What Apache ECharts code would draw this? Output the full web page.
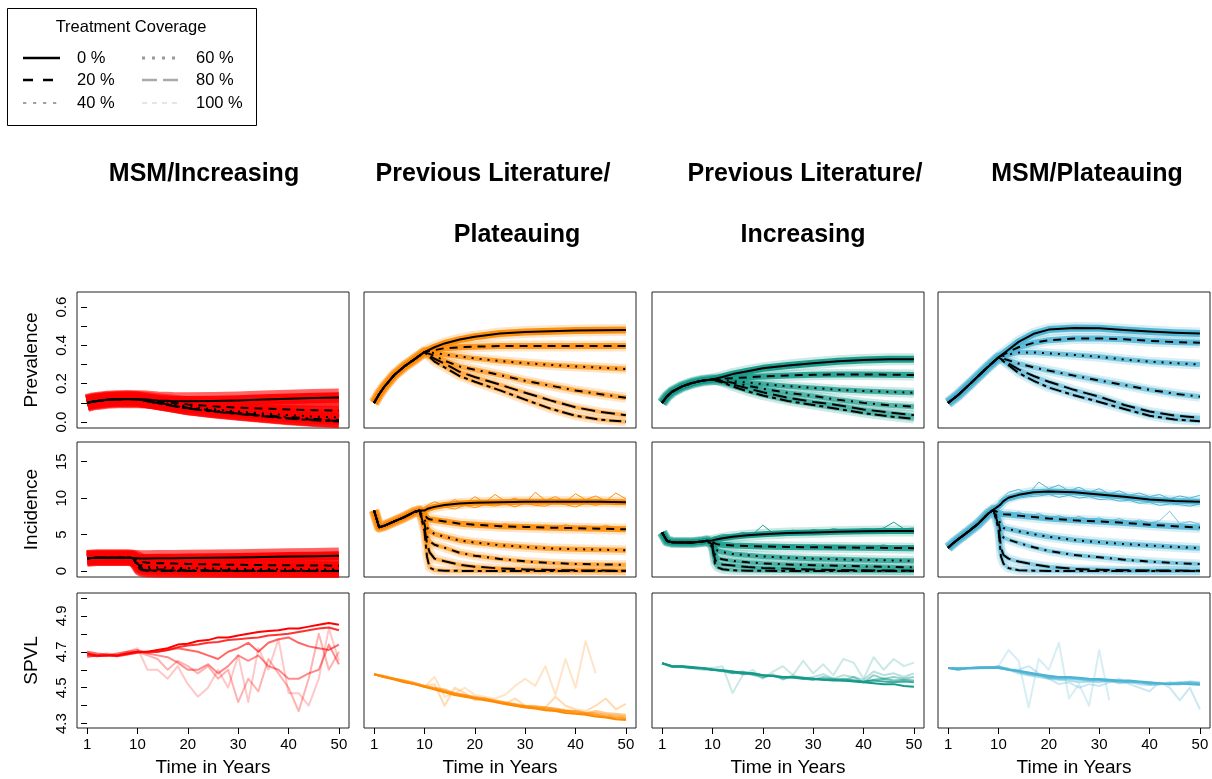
<!DOCTYPE html>
<html><head><meta charset="utf-8">
<script src="https://cdn.jsdelivr.net/npm/echarts@6/dist/echarts.min.js"></script>
<style>html,body{margin:0;padding:0;background:#fff}#c{width:1212px;height:779px}</style>
</head><body><div id="c"></div>
<script>
// ---------------- DATA ----------------
const TITLE_LINE1 = ['MSM/Increasing','Previous Literature/','Previous Literature/','MSM/Plateauing'];
const TITLE_LINE2 = ['','Plateauing','Increasing',''];
const ROW_NAMES = ['Prevalence','Incidence','SPVL'];
const COVERAGE = ['0 %','20 %','40 %','60 %','80 %','100 %'];
const X_TICKS = [0,10,20,30,40,50];
const X_TICK_LABELS = ['1','10','20','30','40','50'];
const PREV_TICKS = [0,0.1,0.2,0.3,0.4,0.5,0.6];
const PREV_LABELS = [0,0.2,0.4,0.6];
const INC_TICKS = [0,5,10,15];
const INC_LABELS = [0,5,10,15];
const SPVL_TICKS = [4.3,4.4,4.5,4.6,4.7,4.8,4.9,5.0];
const SPVL_LABELS = [4.3,4.5,4.7,4.9];

const T_PREV_PRE = [0,1,2,4,6,8,10];
const T_PREV_POST = [12,14,17,20,25,30,35,40,45,50];
const T_INC_PRE = [0,1,2,4,6,8,9];
const T_INC_POST = [10,10.5,11,12,14,17,20,25,30,35,40,45,50];
const T_REP = [10,12,14,16,18,20,22,24,26,28,30,32,34,36,38,40,42,44,46,48,50];
const T_SPVL = [0,2,4,6,8,10,12,14,16,18,20,22,24,26,28,30,32,34,36,38,40,42,44,46,48,50];

// Prevalence (mean over replicates), coverage 0..100 %
const PREV_PRE_1 = [0.100,0.106,0.110,0.116,0.119,0.120,0.119];
const PREV_POST_1 = [
  [0.117,0.113,0.110,0.109,0.110,0.113,0.117,0.121,0.125,0.128],
  [0.114,0.108,0.100,0.092,0.082,0.075,0.070,0.066,0.062,0.060],
  [0.112,0.104,0.093,0.082,0.067,0.055,0.045,0.036,0.029,0.024],
  [0.110,0.101,0.088,0.075,0.060,0.048,0.037,0.026,0.017,0.011],
  [0.109,0.099,0.086,0.072,0.057,0.044,0.033,0.021,0.012,0.006],
  [0.108,0.098,0.084,0.070,0.055,0.042,0.030,0.018,0.009,0.003]
];
const PREV_PRE_2 = [0.100,0.145,0.183,0.245,0.290,0.327,0.365];
const PREV_POST_2 = [
  [0.390,0.410,0.430,0.445,0.462,0.470,0.474,0.477,0.478,0.480],
  [0.375,0.385,0.390,0.393,0.396,0.397,0.397,0.397,0.397,0.397],
  [0.360,0.352,0.342,0.332,0.318,0.307,0.298,0.290,0.283,0.276],
  [0.345,0.320,0.290,0.273,0.245,0.215,0.190,0.165,0.145,0.127],
  [0.330,0.305,0.262,0.235,0.195,0.153,0.113,0.077,0.052,0.036],
  [0.315,0.285,0.240,0.210,0.165,0.117,0.070,0.033,0.012,0.002]
];
const PREV_PRE_3 = [0.100,0.135,0.158,0.186,0.204,0.216,0.222];
const PREV_POST_3 = [
  [0.235,0.250,0.265,0.280,0.295,0.307,0.317,0.323,0.327,0.328],
  [0.226,0.229,0.233,0.238,0.243,0.246,0.248,0.248,0.247,0.245],
  [0.218,0.214,0.206,0.198,0.187,0.178,0.168,0.162,0.157,0.153],
  [0.214,0.205,0.190,0.173,0.152,0.136,0.116,0.100,0.088,0.080],
  [0.210,0.196,0.176,0.155,0.127,0.105,0.088,0.066,0.050,0.036],
  [0.206,0.186,0.160,0.138,0.110,0.089,0.068,0.047,0.030,0.016]
];
const PREV_PRE_4 = [0.100,0.120,0.141,0.190,0.240,0.290,0.337];
const PREV_POST_4 = [
  [0.377,0.418,0.460,0.482,0.490,0.489,0.480,0.472,0.466,0.462],
  [0.366,0.390,0.413,0.427,0.435,0.436,0.432,0.423,0.417,0.413],
  [0.352,0.362,0.363,0.358,0.350,0.340,0.326,0.315,0.307,0.300],
  [0.322,0.305,0.285,0.268,0.242,0.217,0.193,0.168,0.148,0.132],
  [0.305,0.275,0.240,0.210,0.168,0.132,0.089,0.055,0.034,0.023],
  [0.296,0.256,0.215,0.180,0.140,0.105,0.068,0.033,0.013,0.004]
];

// Incidence (mean over replicates)
const INC_PRE_1 = [1.75,1.80,1.82,1.83,1.83,1.82,1.80];
const INC_POST_1 = [
  [1.75,1.72,1.72,1.73,1.75,1.76,1.78,1.82,1.87,1.93,1.98,2.04,2.10],
  [1.55,1.35,1.25,1.15,1.08,1.02,0.97,0.90,0.85,0.81,0.78,0.75,0.73],
  [1.30,0.90,0.72,0.58,0.50,0.45,0.40,0.34,0.30,0.27,0.24,0.22,0.20],
  [1.10,0.60,0.40,0.28,0.22,0.18,0.15,0.11,0.08,0.06,0.05,0.04,0.03],
  [0.95,0.40,0.22,0.12,0.08,0.06,0.05,0.03,0.02,0.01,0.01,0.00,0.00],
  [0.80,0.25,0.10,0.04,0.02,0.01,0.00,0.00,0.00,0.00,0.00,0.00,0.00]
];
const INC_PRE_2 = [8.3,6.0,6.2,6.8,7.4,8.1,8.3];
const INC_POST_2 = [
  [8.3,8.5,8.6,8.8,9.05,9.25,9.35,9.45,9.5,9.5,9.5,9.5,9.45],
  [7.8,7.3,7.1,7.0,6.8,6.5,6.35,6.15,6.05,5.95,5.88,5.8,5.73],
  [7.2,6.0,5.5,5.1,4.7,4.2,3.9,3.55,3.3,3.1,3.0,2.92,2.86],
  [6.5,4.8,4.1,3.6,3.2,2.5,2.1,1.65,1.32,1.1,0.98,0.9,0.86],
  [6.0,3.8,2.6,1.7,1.35,0.85,0.6,0.35,0.22,0.14,0.09,0.06,0.05],
  [5.5,2.0,0.5,0.15,0.05,0.02,0.01,0,0,0,0,0,0]
];
const INC_PRE_3 = [5.3,4.1,3.95,3.9,3.9,4.05,4.15];
const INC_POST_3 = [
  [4.2,4.3,4.37,4.5,4.7,4.9,5.05,5.2,5.3,5.38,5.45,5.48,5.5],
  [4.0,3.8,3.68,3.6,3.5,3.42,3.36,3.3,3.26,3.23,3.2,3.17,3.14],
  [3.8,3.1,2.8,2.6,2.35,2.15,2.0,1.82,1.7,1.6,1.52,1.46,1.41],
  [3.6,2.3,1.8,1.6,1.4,1.2,1.05,0.9,0.8,0.72,0.64,0.57,0.5],
  [3.4,1.6,1.1,0.9,0.75,0.55,0.42,0.3,0.2,0.15,0.1,0.07,0.05],
  [3.2,1.0,0.5,0.25,0.1,0.05,0.03,0.01,0,0,0,0,0]
];
const INC_PRE_4 = [3.2,3.8,4.35,5.4,6.5,7.9,8.4];
const INC_POST_4 = [
  [8.9,9.2,9.6,10.05,10.45,10.8,10.9,10.8,10.5,10.2,9.8,9.6,9.5],
  [8.0,7.85,7.8,7.75,7.6,7.4,7.2,6.95,6.8,6.6,6.35,6.15,5.96],
  [7.2,6.2,5.9,5.75,5.45,5.05,4.7,4.25,3.95,3.7,3.5,3.3,3.14],
  [6.8,5.0,4.6,4.3,3.85,3.25,2.75,2.2,1.9,1.55,1.3,1.1,0.95],
  [6.3,3.2,2.2,1.7,1.3,0.9,0.6,0.3,0.18,0.12,0.08,0.06,0.05],
  [5.8,2.0,1.0,0.4,0.12,0.05,0.02,0,0,0,0,0,0]
];

// Individual noisy incidence replicates: [0 % run A, 0 % run B, 20 % run]
const INC_REP_1 = [
  [1.9,2.0,1.9,2.1,1.95,2.05,2.0,2.1,2.0,2.15,2.1,2.2,2.15,2.25,2.2,2.3,2.35,2.25,2.4,2.35,2.45],
  [1.6,1.6,1.55,1.65,1.6,1.7,1.6,1.7,1.75,1.7,1.8,1.75,1.85,1.8,1.9,1.85,1.9,1.95,1.9,2.0,2.0],
  [1.3,1.25,1.1,1.15,1.0,1.05,0.95,1.0,0.9,0.95,0.85,0.9,0.85,0.8,0.85,0.78,0.82,0.75,0.8,0.74,0.78]
];
const INC_REP_2 = [
  [8.8,9.5,9.0,9.8,9.2,10.2,9.4,10.5,9.6,10.0,9.3,10.8,9.7,10.2,9.5,10.6,9.8,10.3,9.6,10.7,9.9],
  [8.4,8.6,8.8,8.5,9.0,8.7,9.1,8.9,9.2,8.8,9.3,9.0,8.9,9.4,9.1,8.8,9.3,9.0,9.4,9.1,9.3],
  [7.2,7.0,6.9,6.6,6.8,6.3,6.6,6.2,6.5,6.0,6.4,6.1,6.3,5.9,6.4,6.0,6.2,5.8,6.3,5.9,6.1]
];
const INC_REP_3 = [
  [4.6,5.0,4.9,5.3,5.0,6.3,5.2,5.4,5.6,5.3,5.7,5.5,5.8,5.6,5.5,5.8,5.7,5.9,6.7,5.8,5.9],
  [4.2,4.4,4.6,4.7,4.8,4.9,5.0,4.9,5.1,5.2,5.0,5.3,5.2,5.4,5.3,5.2,5.4,5.3,5.5,5.4,5.3],
  [3.8,3.6,3.7,3.4,3.6,3.3,3.6,3.4,3.5,3.3,3.6,3.3,3.5,3.4,3.2,3.5,3.3,3.6,3.2,3.4,3.5]
];
const INC_REP_4 = [
  [9.5,10.8,11.2,10.6,12.2,11.3,11.8,11.0,11.5,10.8,11.3,10.6,11.0,10.4,10.7,10.2,10.5,9.9,10.3,10.0,10.4],
  [8.8,9.6,10.0,10.2,10.3,10.5,10.1,10.4,10.0,10.2,9.8,9.9,9.6,9.7,9.3,9.4,9.0,9.2,9.1,8.9,9.2],
  [8.0,7.7,8.1,7.5,7.9,7.3,7.6,7.1,7.5,7.0,7.3,6.8,7.2,6.7,7.0,6.6,6.9,8.2,6.5,6.8,6.4]
];

// SPVL, one line per coverage (0 % .. 100 %)
const SPVL_1 = [
  [4.69,4.68,4.68,4.68,4.69,4.70,4.70,4.71,4.72,4.74,4.745,4.76,4.765,4.78,4.78,4.79,4.80,4.81,4.815,4.82,4.83,4.83,4.84,4.85,4.86,4.85],
  [4.68,4.675,4.68,4.675,4.685,4.695,4.70,4.70,4.71,4.725,4.735,4.74,4.75,4.755,4.765,4.77,4.775,4.78,4.79,4.795,4.80,4.81,4.82,4.83,4.835,4.82],
  [4.70,4.69,4.685,4.68,4.69,4.70,4.695,4.70,4.71,4.72,4.71,4.70,4.68,4.66,4.70,4.72,4.75,4.70,4.75,4.77,4.78,4.75,4.73,4.72,4.71,4.74],
  [4.67,4.68,4.68,4.69,4.70,4.71,4.69,4.68,4.67,4.64,4.60,4.60,4.63,4.58,4.62,4.68,4.65,4.68,4.62,4.60,4.55,4.55,4.58,4.60,4.74,4.63],
  [4.68,4.68,4.69,4.68,4.70,4.70,4.68,4.66,4.60,4.65,4.62,4.58,4.62,4.55,4.60,4.42,4.55,4.48,4.66,4.58,4.50,4.37,4.55,4.80,4.60,4.70],
  [4.69,4.68,4.68,4.69,4.70,4.72,4.60,4.60,4.55,4.62,4.52,4.45,4.50,4.60,4.50,4.68,4.42,4.72,4.60,4.77,4.47,4.47,4.40,4.55,4.83,4.65]
];
const SPVL_2 = [
  [4.575,4.56,4.545,4.53,4.52,4.505,4.49,4.475,4.46,4.45,4.44,4.43,4.42,4.41,4.40,4.39,4.385,4.375,4.37,4.36,4.355,4.35,4.34,4.335,4.325,4.32],
  [4.575,4.56,4.55,4.535,4.52,4.505,4.495,4.48,4.465,4.455,4.445,4.435,4.425,4.415,4.405,4.395,4.39,4.38,4.375,4.37,4.36,4.355,4.35,4.34,4.335,4.33],
  [4.575,4.565,4.55,4.54,4.525,4.51,4.50,4.49,4.47,4.46,4.45,4.44,4.43,4.42,4.41,4.40,4.395,4.39,4.385,4.375,4.37,4.36,4.36,4.35,4.345,4.34],
  [4.575,4.56,4.55,4.535,4.525,4.51,4.495,4.48,4.47,4.46,4.44,4.44,4.425,4.41,4.40,4.395,4.385,4.39,4.38,4.37,4.37,4.36,4.37,4.36,4.355,4.35],
  [4.575,4.565,4.55,4.54,4.53,4.51,4.52,4.40,4.50,4.47,4.43,4.44,4.42,4.41,4.44,4.40,4.40,4.39,4.45,4.40,4.38,4.37,4.40,4.44,4.38,4.41],
  [4.575,4.56,4.55,4.535,4.52,4.505,4.56,4.45,4.47,4.50,4.46,4.45,4.44,4.46,4.51,4.55,4.51,4.62,4.46,4.66,4.50,4.76,4.58,null,null,null]
];
const SPVL_3 = [
  [4.636,4.62,4.62,4.615,4.61,4.60,4.595,4.59,4.585,4.58,4.57,4.565,4.56,4.56,4.555,4.55,4.545,4.54,4.54,4.535,4.53,4.525,4.52,4.52,4.51,4.505],
  [4.636,4.615,4.62,4.61,4.61,4.60,4.595,4.585,4.58,4.575,4.57,4.565,4.56,4.555,4.55,4.55,4.545,4.545,4.54,4.54,4.535,4.54,4.535,4.53,4.535,4.53],
  [4.636,4.62,4.615,4.61,4.605,4.60,4.60,4.59,4.575,4.58,4.57,4.565,4.555,4.56,4.55,4.545,4.55,4.545,4.55,4.54,4.53,4.545,4.55,4.54,4.545,4.54],
  [4.636,4.62,4.615,4.61,4.61,4.605,4.595,4.58,4.59,4.575,4.56,4.57,4.55,4.56,4.555,4.545,4.56,4.55,4.54,4.56,4.53,4.57,4.55,4.56,4.55,4.56],
  [4.636,4.62,4.62,4.61,4.60,4.60,4.59,4.58,4.585,4.57,4.555,4.575,4.545,4.57,4.55,4.56,4.575,4.55,4.57,4.56,4.545,4.59,4.57,4.58,4.56,4.58],
  [4.636,4.62,4.615,4.61,4.605,4.61,4.62,4.47,4.57,4.60,4.55,4.59,4.62,4.57,4.65,4.58,4.63,4.57,4.66,4.64,4.55,4.67,4.60,4.66,4.62,4.64]
];
const SPVL_4 = [
  [4.61,4.60,4.61,4.61,4.61,4.61,4.60,4.595,4.585,4.575,4.567,4.56,4.56,4.555,4.55,4.549,4.545,4.54,4.54,4.535,4.53,4.525,4.52,4.525,4.52,4.517],
  [4.61,4.605,4.61,4.615,4.615,4.615,4.605,4.59,4.58,4.57,4.56,4.555,4.555,4.55,4.545,4.545,4.54,4.535,4.535,4.53,4.525,4.525,4.52,4.52,4.525,4.52],
  [4.61,4.61,4.605,4.61,4.61,4.62,4.60,4.59,4.575,4.57,4.555,4.55,4.55,4.545,4.54,4.54,4.535,4.535,4.53,4.53,4.52,4.52,4.525,4.53,4.53,4.525],
  [4.61,4.605,4.61,4.61,4.615,4.61,4.60,4.58,4.57,4.56,4.55,4.545,4.54,4.53,4.535,4.53,4.54,4.525,4.53,4.52,4.515,4.52,4.53,4.52,4.535,4.53],
  [4.61,4.61,4.61,4.605,4.61,4.61,4.60,4.60,4.62,4.58,4.55,4.52,4.53,4.50,4.52,4.51,4.53,4.55,4.52,4.50,4.48,4.53,4.50,4.43,4.50,4.38],
  [4.61,4.61,4.605,4.61,4.61,4.62,4.71,4.65,4.39,4.66,4.60,4.75,4.44,4.52,4.40,4.71,4.43,null,null,null,null,null,null,null,null,null]
];

// ---------------- ASSEMBLY ----------------
const PREV_PRE = [PREV_PRE_1,PREV_PRE_2,PREV_PRE_3,PREV_PRE_4];
const PREV_POST = [PREV_POST_1,PREV_POST_2,PREV_POST_3,PREV_POST_4];
const INC_PRE = [INC_PRE_1,INC_PRE_2,INC_PRE_3,INC_PRE_4];
const INC_POST = [INC_POST_1,INC_POST_2,INC_POST_3,INC_POST_4];
const INC_REP = [INC_REP_1,INC_REP_2,INC_REP_3,INC_REP_4];
const SPVL = [SPVL_1,SPVL_2,SPVL_3,SPVL_4];

const FONT = "'Liberation Sans', Arial, Helvetica, sans-serif";
const COLORS = ['#FF0000','#FF8A00','#14998A','#4BB3D3'];
const GRID_LEFT = [77,364,652,938], GRID_W = 272;
const GRID_TOP = [292,442,593], GRID_H = [136,135,135];
const Y_MIN = [-0.031,-0.82,4.276], Y_MAX = [0.678,17.7,5.027];
const Y_TICKS = [PREV_TICKS,INC_TICKS,SPVL_TICKS];
const Y_LABELS = [PREV_LABELS,INC_LABELS,SPVL_LABELS];
const DASHES = ['solid',[8,6],[2,6],[2,6,8,6],[14,6],[4,4,12,4]];
const BAND_W = [[7,6,5,5,4,4],[6,6,5,4,4,4]];
const BAND_OP = [0.95,0.85,0.75,0.65,0.55,0.5];
const BAND_SCALE = [1.5,1,1,1];
const HALO_OP = [0.6,0.22,0.22,0.22];
const SPVL_OP = [1,0.8,0.6,0.45,0.3,0.22];

function pairs(ts, vs){ return ts.map((t,i)=>[t, vs[i]===undefined?null:vs[i]]); }
function line(g, data, color, width, opacity, type){
  return {type:'line', xAxisIndex:g, yAxisIndex:g, data:data, showSymbol:false, symbol:'none',
    silent:true, animation:false, connectNulls:false,
    lineStyle:{color:color, width:width, opacity:opacity, type:type||'solid', cap:'butt', join:'round'}};
}

const grids=[], xAxes=[], yAxes=[], series=[];
for (let r=0;r<3;r++){
  for (let c=0;c<4;c++){
    const g = r*4+c;
    grids.push({left:GRID_LEFT[c], top:GRID_TOP[r], width:GRID_W, height:GRID_H[r],
      show:true, borderColor:'#222', borderWidth:1, backgroundColor:'transparent', containLabel:false});
    const bottom = r===2;
    xAxes.push({gridIndex:g, type:'value', min:-2, max:52,
      axisLine:{show:false}, splitLine:{show:false},
      axisTick:{show:bottom, length:6, lineStyle:{color:'#000'}, customValues:X_TICKS},
      axisLabel:{show:bottom, customValues:X_TICKS, margin:9, fontSize:15, color:'#000', fontFamily:FONT,
        formatter:(v)=>{const i=X_TICKS.indexOf(Math.round(v)); return i>=0?X_TICK_LABELS[i]:'';}},
      name: bottom?'Time in Years':'', nameLocation:'middle', nameGap:30,
      nameTextStyle:{fontSize:19, color:'#000', fontFamily:FONT}});
    const first = c===0;
    yAxes.push({gridIndex:g, type:'value', min:Y_MIN[r], max:Y_MAX[r],
      axisLine:{show:false}, splitLine:{show:false},
      axisTick:{show:first, length:6, lineStyle:{color:'#000'}, customValues:Y_TICKS[r]},
      axisLabel:{show:first, customValues:Y_LABELS[r], rotate:90, margin:8, fontSize:15, color:'#000', fontFamily:FONT,
        formatter:(v)=> r===1 ? String(Math.round(v)) : v.toFixed(1)},
      name: first?ROW_NAMES[r]:'', nameLocation:'middle', nameGap:36, nameRotate:90,
      nameTextStyle:{fontSize:19, color:'#000', fontFamily:FONT}});
  }
}

for (let c=0;c<4;c++){
  const col = COLORS[c];
  // Prevalence
  const gP = c;
  const tP = T_PREV_PRE.concat(T_PREV_POST);
  for (let k=0;k<6;k++){
    const d = pairs(tP, PREV_PRE[c].concat(PREV_POST[c][k]));
    series.push(line(gP, d, col, (BAND_W[0][k]+5)*BAND_SCALE[c], HALO_OP[c]));
    series.push(line(gP, d, col, BAND_W[0][k]*BAND_SCALE[c], BAND_OP[k]));
  }
  for (let k=0;k<6;k++){
    const d = pairs(tP, PREV_PRE[c].concat(PREV_POST[c][k]));
    series.push(line(gP, d, '#000', 2, 1, DASHES[k]));
  }
  // Incidence
  const gI = 4+c;
  const tI = T_INC_PRE.concat(T_INC_POST);
  for (let k=0;k<6;k++){
    const d = pairs(tI, INC_PRE[c].concat(INC_POST[c][k]));
    series.push(line(gI, d, col, (BAND_W[1][k]+5)*BAND_SCALE[c], HALO_OP[c]));
    series.push(line(gI, d, col, BAND_W[1][k]*BAND_SCALE[c], BAND_OP[k]));
  }
  INC_REP[c].forEach((rep, j)=>{
    series.push(line(gI, pairs(T_REP, rep), col, 1, j<2?0.95:0.75));
  });
  for (let k=0;k<6;k++){
    const d = pairs(tI, INC_PRE[c].concat(INC_POST[c][k]));
    series.push(line(gI, d, '#000', 2, 1, DASHES[k]));
  }
  // SPVL (lightest first, so full colour ends on top)
  const gS = 8+c;
  for (let k=5;k>=0;k--){
    series.push(line(gS, pairs(T_SPVL, SPVL[c][k]), col, 2, SPVL_OP[k]));
  }
}

// Titles and legend
const graphics = [];
const TITLE_X1 = [204,493,805,1087], TITLE_X2 = [0,517,803,0];
for (let c=0;c<4;c++){
  graphics.push({type:'text', x:TITLE_X1[c], y:174, silent:true,
    style:{text:TITLE_LINE1[c], font:'bold 25px '+FONT, fill:'#000', align:'center', verticalAlign:'middle'}});
  if (TITLE_LINE2[c]) graphics.push({type:'text', x:TITLE_X2[c], y:235, silent:true,
    style:{text:TITLE_LINE2[c], font:'bold 25px '+FONT, fill:'#000', align:'center', verticalAlign:'middle'}});
}
graphics.push({type:'rect', shape:{x:7.5,y:8.5,width:249,height:117}, silent:true,
  style:{fill:'#fff', stroke:'#000', lineWidth:1}});
graphics.push({type:'text', x:131, y:27, silent:true,
  style:{text:'Treatment Coverage', font:'16.5px '+FONT, fill:'#000', align:'center', verticalAlign:'middle'}});
const LEG_STYLE = [
  {stroke:'#000', w:2.5, dash:null},
  {stroke:'#000', w:2.5, dash:[10,10]},
  {stroke:'#444', w:1, dash:[3.3,6.7]},
  {stroke:'#999', w:3, dash:[3,7]},
  {stroke:'#aaa', w:2.5, dash:[15,6]},
  {stroke:'#ddd', w:1.5, dash:[5,5]}
];
const LEG_X = [23,142], LEG_TX = [77,196], LEG_Y = [58,80,103];
COVERAGE.forEach((lab,k)=>{
  const cc = Math.floor(k/3), rr = k%3, s = LEG_STYLE[k];
  graphics.push({type:'line', silent:true, shape:{x1:LEG_X[cc], y1:LEG_Y[rr], x2:LEG_X[cc]+37, y2:LEG_Y[rr]},
    style:{stroke:s.stroke, lineWidth:s.w, lineDash:s.dash||null, lineCap:'butt'}});
  graphics.push({type:'text', x:LEG_TX[cc], y:LEG_Y[rr], silent:true,
    style:{text:lab, font:'16.5px '+FONT, fill:'#000', align:'left', verticalAlign:'middle'}});
});

const chart = echarts.init(document.getElementById('c'));
chart.setOption({animation:false, backgroundColor:'#fff', grid:grids, xAxis:xAxes, yAxis:yAxes, series:series, graphic:graphics});
</script></body></html>
